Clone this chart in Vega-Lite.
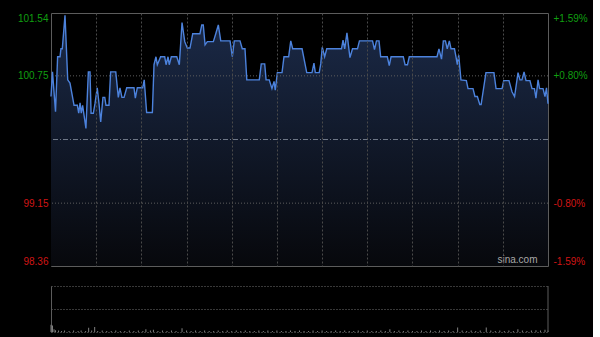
{
  "$schema": "https://vega.github.io/schema/vega-lite/v6.json",
  "background": "#000000",
  "padding": {"left": 16, "top": 12, "right": 5, "bottom": 4},
  "autosize": {"type": "pad"},
  "spacing": 18,
  "config": {
    "view": {"stroke": "#5c5c5c", "strokeWidth": 1},
    "font": "Liberation Sans"
  },
  "datasets": {
    "price": [
      {"t": 0, "price": 100.49}, {"t": 1, "price": 100.80}, {"t": 3, "price": 100.30}, {"t": 4.4, "price": 100.99},
      {"t": 6.0, "price": 100.99}, {"t": 6.6, "price": 101.09}, {"t": 7.5, "price": 101.09}, {"t": 9.3, "price": 101.51},
      {"t": 11.1, "price": 100.70}, {"t": 12.6, "price": 100.66}, {"t": 15.3, "price": 100.38}, {"t": 17.5, "price": 100.38},
      {"t": 18.4, "price": 100.28}, {"t": 19.3, "price": 100.41}, {"t": 20.1, "price": 100.28}, {"t": 21.0, "price": 100.38},
      {"t": 23.2, "price": 100.09}, {"t": 24.8, "price": 100.80}, {"t": 25.9, "price": 100.80}, {"t": 26.6, "price": 100.28},
      {"t": 28.1, "price": 100.28}, {"t": 29.2, "price": 100.40}, {"t": 30.7, "price": 100.60}, {"t": 31.9, "price": 100.40},
      {"t": 33.0, "price": 100.17}, {"t": 34.5, "price": 100.48}, {"t": 35.7, "price": 100.48}, {"t": 36.5, "price": 100.38},
      {"t": 38.5, "price": 100.38}, {"t": 39.6, "price": 100.80}, {"t": 43.0, "price": 100.80}, {"t": 44.7, "price": 100.48},
      {"t": 45.8, "price": 100.60}, {"t": 47.1, "price": 100.48}, {"t": 48.5, "price": 100.48}, {"t": 50.3, "price": 100.60},
      {"t": 55.1, "price": 100.60}, {"t": 56.0, "price": 100.47}, {"t": 57.3, "price": 100.60}, {"t": 60.9, "price": 100.60},
      {"t": 61.9, "price": 100.70}, {"t": 63.5, "price": 100.29}, {"t": 67.3, "price": 100.29}, {"t": 68.4, "price": 100.89},
      {"t": 69.7, "price": 100.99}, {"t": 70.6, "price": 100.89}, {"t": 72.8, "price": 100.99}, {"t": 75.5, "price": 100.99},
      {"t": 76.4, "price": 100.89}, {"t": 77.7, "price": 100.99}, {"t": 78.5, "price": 100.89}, {"t": 79.9, "price": 100.99},
      {"t": 83.5, "price": 100.99}, {"t": 85.2, "price": 100.89}, {"t": 87.0, "price": 101.42}, {"t": 88.8, "price": 101.18},
      {"t": 90.5, "price": 101.10}, {"t": 92.3, "price": 101.10}, {"t": 94.1, "price": 101.28}, {"t": 98.9, "price": 101.28},
      {"t": 100.1, "price": 101.39}, {"t": 101.1, "price": 101.39}, {"t": 102.3, "price": 101.14}, {"t": 103.8, "price": 101.18},
      {"t": 107.8, "price": 101.18}, {"t": 109.4, "price": 101.28}, {"t": 111.1, "price": 101.39}, {"t": 112.7, "price": 101.19},
      {"t": 118.9, "price": 101.19}, {"t": 120.4, "price": 100.99}, {"t": 121.7, "price": 101.19}, {"t": 125.5, "price": 101.19},
      {"t": 127.0, "price": 101.09}, {"t": 128.8, "price": 101.09}, {"t": 130.0, "price": 100.70}, {"t": 138.3, "price": 100.70},
      {"t": 139.6, "price": 100.90}, {"t": 141.9, "price": 100.90}, {"t": 142.8, "price": 100.70}, {"t": 144.9, "price": 100.70},
      {"t": 146.7, "price": 100.59}, {"t": 148.1, "price": 100.68}, {"t": 148.9, "price": 100.57}, {"t": 150.3, "price": 100.79},
      {"t": 153.4, "price": 100.79}, {"t": 154.7, "price": 100.99}, {"t": 157.8, "price": 100.99}, {"t": 159.2, "price": 101.19},
      {"t": 160.5, "price": 101.09}, {"t": 166.7, "price": 101.09}, {"t": 169.8, "price": 100.79}, {"t": 173.3, "price": 100.79},
      {"t": 174.6, "price": 100.91}, {"t": 175.5, "price": 100.79}, {"t": 178.1, "price": 100.79}, {"t": 179.1, "price": 100.90},
      {"t": 180.1, "price": 101.11}, {"t": 181.7, "price": 100.99}, {"t": 183.1, "price": 101.09}, {"t": 192.9, "price": 101.09},
      {"t": 193.9, "price": 101.20}, {"t": 195.0, "price": 101.09}, {"t": 196.5, "price": 101.29}, {"t": 198.5, "price": 100.98},
      {"t": 200.2, "price": 101.09}, {"t": 203.5, "price": 101.09}, {"t": 204.8, "price": 101.19}, {"t": 213.5, "price": 101.19},
      {"t": 214.8, "price": 101.08}, {"t": 216.1, "price": 101.19}, {"t": 217.8, "price": 101.19}, {"t": 218.9, "price": 100.99},
      {"t": 223.3, "price": 100.99}, {"t": 224.6, "price": 100.88}, {"t": 225.8, "price": 100.99}, {"t": 233.9, "price": 100.99},
      {"t": 235.1, "price": 100.89}, {"t": 236.7, "price": 100.89}, {"t": 237.9, "price": 100.99}, {"t": 256.3, "price": 100.99},
      {"t": 257.6, "price": 101.09}, {"t": 259.3, "price": 100.96}, {"t": 260.5, "price": 101.19}, {"t": 261.9, "price": 101.19},
      {"t": 263.1, "price": 101.09}, {"t": 264.5, "price": 101.19}, {"t": 265.6, "price": 101.09}, {"t": 267.9, "price": 101.09},
      {"t": 268.9, "price": 100.99}, {"t": 269.8, "price": 100.89}, {"t": 270.7, "price": 101.01}, {"t": 272.2, "price": 100.70},
      {"t": 275.8, "price": 100.69}, {"t": 276.9, "price": 100.59}, {"t": 280.2, "price": 100.59}, {"t": 281.5, "price": 100.49},
      {"t": 283.1, "price": 100.49}, {"t": 284.7, "price": 100.39}, {"t": 285.6, "price": 100.39}, {"t": 288.8, "price": 100.79},
      {"t": 294.1, "price": 100.79}, {"t": 295.5, "price": 100.59}, {"t": 299.5, "price": 100.59}, {"t": 300.6, "price": 100.69},
      {"t": 304.1, "price": 100.69}, {"t": 306.1, "price": 100.55}, {"t": 307.8, "price": 100.49}, {"t": 310.1, "price": 100.79},
      {"t": 311.4, "price": 100.70}, {"t": 312.7, "price": 100.70}, {"t": 314.1, "price": 100.80}, {"t": 315.4, "price": 100.69},
      {"t": 318.0, "price": 100.69}, {"t": 319.4, "price": 100.59}, {"t": 321.0, "price": 100.59}, {"t": 322.0, "price": 100.47},
      {"t": 323.4, "price": 100.70}, {"t": 324.4, "price": 100.59}, {"t": 326.7, "price": 100.59}, {"t": 328.0, "price": 100.49},
      {"t": 329.0, "price": 100.60}, {"t": 330.0, "price": 100.40}
    ],
    "levels": [{"level": 100.75}, {"level": 99.15}],
    "prevclose": [{"level": 99.95}],
    "brand": [{"label": "sina.com", "t": 323, "price": 98.36}],
    "edge": [{"t": 330}],
    "volume": [
      {"t": 0, "v": 16}, {"t": 1, "v": 14}, {"t": 2, "v": 6}, {"t": 3, "v": 4}, {"t": 5, "v": 3}, {"t": 7, "v": 2},
      {"t": 9, "v": 3}, {"t": 12, "v": 2}, {"t": 15, "v": 3}, {"t": 18, "v": 2}, {"t": 20, "v": 3}, {"t": 23, "v": 2},
      {"t": 25, "v": 9}, {"t": 27, "v": 3}, {"t": 29, "v": 11}, {"t": 31, "v": 2}, {"t": 34, "v": 3}, {"t": 37, "v": 2},
      {"t": 40, "v": 2}, {"t": 43, "v": 3}, {"t": 46, "v": 2}, {"t": 49, "v": 2}, {"t": 52, "v": 3}, {"t": 55, "v": 2},
      {"t": 58, "v": 3}, {"t": 61, "v": 2}, {"t": 63, "v": 6}, {"t": 66, "v": 3}, {"t": 68, "v": 5}, {"t": 71, "v": 2},
      {"t": 74, "v": 3}, {"t": 77, "v": 2}, {"t": 80, "v": 3}, {"t": 83, "v": 2}, {"t": 87, "v": 8}, {"t": 90, "v": 3},
      {"t": 93, "v": 2}, {"t": 96, "v": 3}, {"t": 99, "v": 2}, {"t": 102, "v": 3}, {"t": 105, "v": 2}, {"t": 108, "v": 2},
      {"t": 111, "v": 3}, {"t": 114, "v": 2}, {"t": 117, "v": 3}, {"t": 120, "v": 2}, {"t": 123, "v": 3}, {"t": 126, "v": 2},
      {"t": 129, "v": 3}, {"t": 132, "v": 2}, {"t": 135, "v": 2}, {"t": 138, "v": 3}, {"t": 141, "v": 2}, {"t": 144, "v": 3},
      {"t": 147, "v": 2}, {"t": 150, "v": 3}, {"t": 153, "v": 2}, {"t": 156, "v": 2}, {"t": 159, "v": 3}, {"t": 162, "v": 2},
      {"t": 165, "v": 3}, {"t": 168, "v": 2}, {"t": 171, "v": 2}, {"t": 174, "v": 3}, {"t": 177, "v": 2}, {"t": 180, "v": 3},
      {"t": 183, "v": 2}, {"t": 186, "v": 2}, {"t": 189, "v": 3}, {"t": 192, "v": 2}, {"t": 195, "v": 3}, {"t": 198, "v": 2},
      {"t": 201, "v": 2}, {"t": 204, "v": 3}, {"t": 207, "v": 2}, {"t": 210, "v": 3}, {"t": 213, "v": 2}, {"t": 216, "v": 2},
      {"t": 219, "v": 3}, {"t": 222, "v": 2}, {"t": 225, "v": 6}, {"t": 228, "v": 2}, {"t": 231, "v": 3}, {"t": 234, "v": 2},
      {"t": 237, "v": 3}, {"t": 240, "v": 2}, {"t": 243, "v": 2}, {"t": 246, "v": 3}, {"t": 249, "v": 2}, {"t": 252, "v": 3},
      {"t": 255, "v": 2}, {"t": 258, "v": 3}, {"t": 261, "v": 2}, {"t": 264, "v": 3}, {"t": 267, "v": 2}, {"t": 270, "v": 10},
      {"t": 273, "v": 3}, {"t": 276, "v": 2}, {"t": 279, "v": 3}, {"t": 282, "v": 2}, {"t": 285, "v": 3}, {"t": 289, "v": 10},
      {"t": 292, "v": 3}, {"t": 295, "v": 2}, {"t": 298, "v": 3}, {"t": 301, "v": 2}, {"t": 304, "v": 3}, {"t": 307, "v": 2},
      {"t": 310, "v": 6}, {"t": 313, "v": 3}, {"t": 316, "v": 2}, {"t": 319, "v": 3}, {"t": 322, "v": 4}, {"t": 325, "v": 3},
      {"t": 328, "v": 5}, {"t": 330, "v": 3}
    ]
  },
  "vconcat": [
    {
      "width": 497,
      "height": 253,
      "layer": [
        {
          "data": {"name": "price"},
          "mark": {
            "type": "area",
            "color": {
              "gradient": "linear", "x1": 0, "y1": 0, "x2": 0, "y2": 1,
              "stops": [{"offset": 0, "color": "#1b2a48"}, {"offset": 1, "color": "#07080c"}]
            }
          },
          "encoding": {
            "x": {
              "field": "t", "type": "quantitative",
              "scale": {"domain": [0, 330], "nice": false, "zero": false},
              "axis": {
                "values": [30, 60, 90, 120, 150, 180, 210, 240, 270, 300],
                "labels": false, "ticks": false, "domain": false, "title": null,
                "grid": true, "gridColor": "#4a4a4a", "gridDash": [2, 2], "zindex": 1
              }
            },
            "y": {
              "field": "price", "type": "quantitative",
              "scale": {"domain": [98.36, 101.54], "nice": false, "zero": false},
              "axis": {
                "orient": "left", "values": [98.36, 99.15, 100.75, 101.54], "format": ".2f",
                "grid": false, "ticks": false, "domain": false, "title": null,
                "labelFlush": true, "labelPadding": 3, "labelFontSize": 10, "labelFont": "Liberation Sans",
                "labelColor": {"condition": {"test": "datum.value > 99.95", "value": "#109f10"}, "value": "#d01515"}
              }
            },
            "y2": {"datum": 98.36}
          }
        },
        {
          "data": {"name": "levels"},
          "mark": {"type": "rule", "color": "#5e5e5e", "strokeDash": [1, 2]},
          "encoding": {"y": {"field": "level", "type": "quantitative", "axis": null}}
        },
        {
          "data": {"name": "prevclose"},
          "mark": {"type": "rule", "color": "#6f7888", "strokeDash": [5, 2, 1, 2]},
          "encoding": {"y": {"field": "level", "type": "quantitative", "axis": null}}
        },
        {
          "data": {"name": "price"},
          "mark": {"type": "line", "color": "#4c82dc", "strokeWidth": 1.4},
          "encoding": {
            "x": {"field": "t", "type": "quantitative"},
            "y": {
              "field": "price", "type": "quantitative",
              "axis": {
                "orient": "right", "values": [98.36, 99.15, 100.75, 101.54],
                "labelExpr": "(datum.value < 99.95 ? '-' : '+') + format(abs(datum.value - 99.95) / 99.95 * 100, '.2f') + '%'",
                "grid": false, "ticks": false, "domain": false, "title": null,
                "labelFlush": true, "labelPadding": 5, "labelFontSize": 10, "labelFont": "Liberation Sans",
                "labelColor": {"condition": {"test": "datum.value > 99.95", "value": "#109f10"}, "value": "#d01515"}
              }
            }
          }
        },
        {
          "data": {"name": "brand"},
          "mark": {"type": "text", "align": "right", "baseline": "bottom", "fontSize": 10, "font": "Liberation Sans", "color": "#a8a8a8", "dy": -1},
          "encoding": {
            "text": {"field": "label"},
            "x": {"field": "t", "type": "quantitative"},
            "y": {"field": "price", "type": "quantitative", "axis": null}
          }
        }
      ],
      "resolve": {"axis": {"y": "independent"}}
    },
    {
      "width": 497,
      "height": 46,
      "view": {"stroke": null},
      "layer": [
        {
          "data": {"name": "volume"},
          "mark": {"type": "bar", "color": "#808080", "size": 1},
          "encoding": {
            "x": {"field": "t", "type": "quantitative", "scale": {"domain": [0, 330], "nice": false, "zero": false, "padding": 0}, "axis": null},
            "y": {
              "field": "v", "type": "quantitative",
              "scale": {"domain": [0, 100], "nice": false},
              "axis": {
                "values": [0, 50, 100], "labels": false, "ticks": false, "title": null,
                "domain": true, "domainColor": "#5c5c5c",
                "grid": true, "gridColor": "#707070", "gridDash": [1, 2]
              }
            }
          }
        },
        {
          "data": {"name": "edge"},
          "mark": {"type": "rule", "color": "#5c5c5c"},
          "encoding": {"x": {"field": "t", "type": "quantitative"}}
        }
      ]
    }
  ]
}
